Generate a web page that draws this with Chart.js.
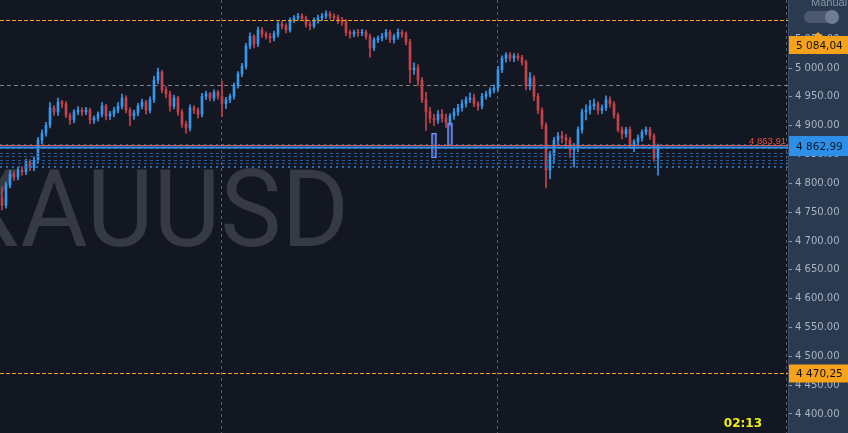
<!DOCTYPE html>
<html>
<head>
<meta charset="utf-8">
<title>XAUUSD</title>
<script src="https://cdn.jsdelivr.net/npm/chart.js@4.4.0/dist/chart.umd.min.js"></script>
<style>
  html, body { margin: 0; padding: 0; background: #131722; overflow: hidden; }
  #wrap { width: 848px; height: 433px; }
</style>
</head>
<body>
<div id="wrap"><canvas id="chart" width="848" height="433"></canvas></div>
<script>
(function() {
  'use strict';

  var symbol = 'XAUUSD';
  var countdown = '02:13';
  var slotCount = 197;
  var yMin = 4367;
  var yMax = 5118;
  var tickValues = [4400, 4450, 4500, 4550, 4600, 4650, 4700, 4750, 4800, 4850, 4900, 4950, 5000, 5050];

  var opens = [
    4775,4762,4797,4816,4811,4823,4820,4837,4827,4840,
    4875,4887,4901,4931,4924,4941,4938,4918,4910,4924,
    4927,4924,4927,4910,4913,4920,4934,4917,4920,4927,
    4934,4948,4927,4917,4922,4934,4941,4927,4945,4979,
    4993,4962,4955,4934,4948,4924,4903,4896,4931,4927,
    4920,4951,4955,4948,4958,4951,4938,4945,4951,4969,
    4990,5003,5038,5055,5042,5066,5059,5055,5052,5059,
    5076,5073,5066,5083,5087,5090,5086,5076,5073,5083,
    5087,5090,5094,5090,5088,5083,5080,5062,5059,5062,
    5061,5062,5055,5035,5049,5052,5055,5062,5049,5055,
    5062,5059,5045,4997,5000,4979,4945,4924,4913,4910,
    4920,4913,4906,4917,4924,4931,4938,4945,4948,4938,
    4934,4951,4955,4962,4965,4997,5017,5023,5017,5021,
    5018,5010,4969,4983,4951,4927,4901,4823,4849,4875,
    4882,4879,4875,4858,4861,4893,4924,4927,4934,4938,
    4927,4931,4945,4938,4918,4893,4886,4893,4867,4872,
    4879,4889,4893,4882,4844
  ];
  var highs = [
    4794,4802,4822,4820,4828,4829,4842,4841,4846,4880,
    4893,4906,4940,4935,4948,4944,4942,4922,4928,4933,
    4931,4932,4930,4917,4924,4940,4937,4925,4932,4940,
    4955,4952,4931,4927,4939,4946,4944,4950,4986,5000,
    4996,4968,4960,4953,4951,4928,4908,4936,4935,4931,
    4956,4960,4958,4962,4961,4977,4949,4955,4974,4994,
    5008,5043,5061,5058,5071,5070,5063,5060,5064,5080,
    5081,5077,5087,5091,5095,5094,5090,5080,5087,5092,
    5095,5099,5098,5094,5092,5088,5084,5066,5066,5067,
    5067,5066,5059,5053,5056,5060,5067,5066,5059,5068,
    5066,5063,5050,5009,5006,4984,4958,4932,4920,4926,
    4928,4920,4921,4930,4937,4945,4950,4957,4955,4942,
    4956,4960,4966,4971,5003,5021,5027,5027,5025,5025,
    5022,5014,4992,4987,4956,4931,4905,4856,4880,4888,
    4890,4885,4880,4869,4898,4929,4936,4944,4946,4942,
    4936,4952,4950,4942,4922,4898,4897,4898,4876,4884,
    4893,4898,4897,4886,4868
  ];
  var lows = [
    4754,4757,4792,4805,4806,4814,4815,4822,4822,4836,
    4869,4882,4896,4918,4918,4931,4914,4902,4905,4919,
    4918,4919,4903,4904,4908,4915,4910,4911,4915,4922,
    4929,4922,4900,4911,4917,4929,4920,4922,4940,4973,
    4957,4948,4925,4929,4918,4897,4887,4891,4921,4913,
    4915,4945,4943,4943,4946,4916,4930,4940,4946,4965,
    4985,4998,5033,5035,5037,5053,5050,5044,5047,5054,
    5068,5061,5062,5079,5083,5082,5071,5066,5069,5078,
    5082,5086,5085,5084,5077,5074,5056,5052,5054,5055,
    5056,5050,5019,5030,5044,5047,5050,5044,5043,5050,
    5053,5040,4974,4989,4970,4940,4892,4905,4900,4904,
    4906,4897,4900,4911,4918,4925,4932,4940,4933,4927,
    4929,4946,4950,4957,4960,4992,5010,5012,5011,5013,
    5005,4962,4962,4944,4921,4895,4792,4808,4836,4866,
    4870,4862,4845,4828,4855,4887,4910,4920,4928,4920,
    4921,4926,4932,4913,4889,4877,4880,4860,4855,4866,
    4873,4884,4876,4838,4814
  ];
  var closes = [
    4762,4797,4816,4811,4823,4820,4837,4827,4840,4875,
    4887,4901,4931,4924,4941,4938,4918,4910,4924,4927,
    4924,4927,4910,4913,4920,4934,4917,4920,4927,4934,
    4948,4927,4917,4922,4934,4941,4927,4945,4979,4993,
    4962,4955,4934,4948,4924,4903,4896,4931,4927,4920,
    4951,4955,4948,4958,4951,4938,4945,4951,4969,4990,
    5003,5038,5055,5042,5066,5059,5055,5052,5059,5076,
    5073,5066,5083,5087,5090,5086,5076,5073,5083,5087,
    5090,5094,5090,5088,5083,5080,5062,5059,5062,5061,
    5062,5055,5035,5049,5052,5055,5062,5049,5055,5062,
    5059,5045,4997,5000,4979,4945,4924,4913,4910,4920,
    4913,4906,4917,4924,4931,4938,4945,4948,4938,4934,
    4951,4955,4962,4965,4997,5017,5023,5017,5021,5018,
    5010,4969,4983,4951,4927,4901,4823,4849,4875,4882,
    4879,4875,4858,4861,4893,4924,4927,4934,4938,4927,
    4931,4945,4938,4918,4893,4886,4893,4867,4872,4879,
    4889,4893,4882,4844,4863
  ];

  // hollow marker boxes (slot index, low, high)
  var markerSlots = [108, 112];
  var markerLows = [4844, 4865];
  var markerHighs = [4887, 4905];

  var resistanceLevel = 5084.04;
  var supportLevel = 4470.25;
  var pivotLevel = 4970;
  var bidPrice = 4862.99;
  var lastPrice = 4863.91;
  var orderLevels = [4866.5, 4860.5, 4852, 4847, 4841, 4836, 4828];
  var sessionBreaks = [54.75, 123.75, 196];

  var upColor = '#3598ec';
  var downColor = '#c4434a';

  function formatPrice(value, decSep) {
    var parts = Number(value).toFixed(2).split('.');
    return parts[0].replace(/\B(?=(\d{3})+(?!\d))/g, ' ') + decSep + parts[1];
  }

  var slotLabels = [];
  for (var s = 0; s < slotCount; s++) slotLabels.push('b' + s);

  var candleColors = closes.map(function(c, i) { return c >= opens[i] ? upColor : downColor; });
  var wickData = lows.map(function(l, i) { return [l, highs[i]]; });
  var bodyData = opens.map(function(o, i) { return [o, closes[i]]; });
  var markerData = slotLabels.map(function() { return null; });
  markerSlots.forEach(function(slot, k) { markerData[slot] = [markerLows[k], markerHighs[k]]; });

  function hLine(ctx, area, y, color, width, dash) {
    ctx.beginPath();
    ctx.strokeStyle = color;
    ctx.lineWidth = width;
    ctx.setLineDash(dash || []);
    ctx.moveTo(area.left, y);
    ctx.lineTo(area.right, y);
    ctx.stroke();
  }

  function priceBox(ctx, chart, yc, h, bg, fg, text) {
    var a = chart.chartArea;
    ctx.fillStyle = bg;
    ctx.fillRect(a.right + 1, yc - h / 2, chart.width - a.right - 1, h);
    ctx.fillStyle = fg;
    ctx.font = '10.5px "DejaVu Sans"';
    ctx.textAlign = 'left';
    ctx.textBaseline = 'middle';
    ctx.fillText(text, a.right + 8, yc + 1);
  }

  var decor = {
    id: 'decor',
    beforeDraw: function(chart) {
      var ctx = chart.ctx, a = chart.chartArea;
      ctx.save();
      ctx.fillStyle = '#131722';
      ctx.fillRect(0, 0, chart.width, chart.height);
      ctx.fillStyle = '#2a3a50';
      ctx.fillRect(a.right, 0, chart.width - a.right, chart.height);
      ctx.restore();
    },
    beforeDatasetsDraw: function(chart) {
      var ctx = chart.ctx, a = chart.chartArea;
      var x = chart.scales.x, y = chart.scales.y;
      ctx.save();
      // watermark squeezed so that it spans from just off the left edge to x=349
      ctx.fillStyle = '#363a43';
      ctx.font = '108px Roboto';
      ctx.textAlign = 'left';
      ctx.textBaseline = 'alphabetic';
      var natural = ctx.measureText(symbol).width;
      var wmLeft = a.left - 44, wmWidth = 393;
      ctx.translate(wmLeft, 246);
      ctx.scale(wmWidth / natural, 1);
      ctx.fillText(symbol, 0, 0);
      ctx.setTransform(1, 0, 0, 1, 0, 0);

      sessionBreaks.forEach(function(v) {
        var px = Math.round(x.getPixelForValue(v)) + 0.5;
        ctx.beginPath();
        ctx.strokeStyle = '#565c68';
        ctx.lineWidth = 1;
        ctx.setLineDash([3, 3]);
        ctx.moveTo(px, a.top);
        ctx.lineTo(px, a.bottom);
        ctx.stroke();
      });
      hLine(ctx, a, Math.round(y.getPixelForValue(pivotLevel)) + 0.5, '#7b8089', 1, [4, 3]);
      ctx.restore();
    },
    afterDatasetsDraw: function(chart) {
      var ctx = chart.ctx, a = chart.chartArea, y = chart.scales.y;
      ctx.save();
      hLine(ctx, a, Math.round(y.getPixelForValue(resistanceLevel)) + 0.5, '#f7a21b', 1, [4, 2]);
      hLine(ctx, a, Math.round(y.getPixelForValue(supportLevel)) + 0.5, '#f7a21b', 1, [4, 2]);

      orderLevels.forEach(function(v, i) {
        var py = Math.round(y.getPixelForValue(v));
        if (i === 0 || i === orderLevels.length - 1) {
          hLine(ctx, a, py, '#2a6aae', 2, [2, 4]);
        } else {
          hLine(ctx, a, py + 0.5, '#285d98', 1, [3, 3]);
        }
      });

      var ly = Math.round(y.getPixelForValue(lastPrice));
      hLine(ctx, a, ly - 0.5, '#d65a4e', 1);
      hLine(ctx, a, ly + 1.5, '#3590ee', 2);

      ctx.setLineDash([]);
      ctx.fillStyle = '#e0503e';
      ctx.font = '9.5px "Liberation Sans"';
      ctx.textAlign = 'right';
      ctx.textBaseline = 'alphabetic';
      ctx.fillText(formatPrice(lastPrice, ','), a.right - 2, ly - 2);

      ctx.fillStyle = '#f0f00a';
      ctx.font = 'bold 12px "DejaVu Sans"';
      ctx.fillText(countdown, a.right - 26, a.bottom - 6);
      ctx.restore();
    },
    afterDraw: function(chart) {
      var ctx = chart.ctx, a = chart.chartArea, y = chart.scales.y;
      ctx.save();
      // resistance label is pushed below the toggle widget
      var ry = Math.max(y.getPixelForValue(resistanceLevel), 45);
      priceBox(ctx, chart, ry, 18, '#f7a21b', '#111111', formatPrice(resistanceLevel, ','));
      ctx.fillStyle = '#f7a21b';
      ctx.beginPath();
      ctx.moveTo(a.right + 26, ry - 9);
      ctx.lineTo(a.right + 30, ry - 13);
      ctx.lineTo(a.right + 34, ry - 9);
      ctx.fill();
      priceBox(ctx, chart, y.getPixelForValue(bidPrice) - 1, 20, '#2d8fe8', '#0e1a2b', formatPrice(bidPrice, ','));
      priceBox(ctx, chart, y.getPixelForValue(supportLevel), 18, '#f7a21b', '#111111', formatPrice(supportLevel, ','));

      ctx.fillStyle = '#8b95a5';
      ctx.font = '11px "Liberation Sans"';
      ctx.textAlign = 'left';
      ctx.textBaseline = 'alphabetic';
      ctx.fillText('Manual', a.right + 23, 6);

      ctx.fillStyle = '#4b586e';
      ctx.beginPath();
      ctx.arc(a.right + 22, 17, 6, Math.PI / 2, Math.PI * 1.5);
      ctx.arc(a.right + 44, 17, 6, Math.PI * 1.5, Math.PI / 2);
      ctx.closePath();
      ctx.fill();
      ctx.fillStyle = '#6e7c94';
      ctx.beginPath();
      ctx.arc(a.right + 44, 17, 7, 0, Math.PI * 2);
      ctx.fill();
      ctx.restore();
    }
  };

  new Chart(document.getElementById('chart'), {
    type: 'bar',
    data: {
      labels: slotLabels,
      datasets: [
        { data: wickData, backgroundColor: candleColors, barThickness: 1, grouped: false, borderWidth: 0, order: 3 },
        { data: bodyData, backgroundColor: candleColors, barThickness: 2, grouped: false, borderWidth: 0, order: 2 },
        { data: markerData, backgroundColor: 'rgba(80,110,220,0.35)', borderColor: '#7b95f0', borderWidth: 1, borderSkipped: false, barThickness: 5, grouped: false, order: 1 }
      ]
    },
    options: {
      responsive: false,
      animation: false,
      devicePixelRatio: 1,
      layout: { padding: 0 },
      plugins: { legend: { display: false }, tooltip: { enabled: false } },
      scales: {
        x: { display: false, offset: true, grid: { display: false } },
        y: {
          position: 'right',
          min: yMin,
          max: yMax,
          afterBuildTicks: function(scale) {
            scale.ticks = tickValues.map(function(v) { return { value: v }; });
          },
          afterFit: function(scale) {
            scale.width = 60;
            scale.paddingTop = 0;
            scale.paddingBottom = 0;
          },
          grid: { drawOnChartArea: false, drawTicks: true, tickLength: 4, color: '#8d96a5' },
          border: { display: true, color: '#3d4b61' },
          ticks: {
            color: '#aab3c0',
            padding: 3,
            font: { family: 'DejaVu Sans', size: 10 },
            callback: function(v) { return formatPrice(v, '.'); }
          }
        }
      }
    },
    plugins: [decor]
  });
})();
</script>
</body>
</html>
